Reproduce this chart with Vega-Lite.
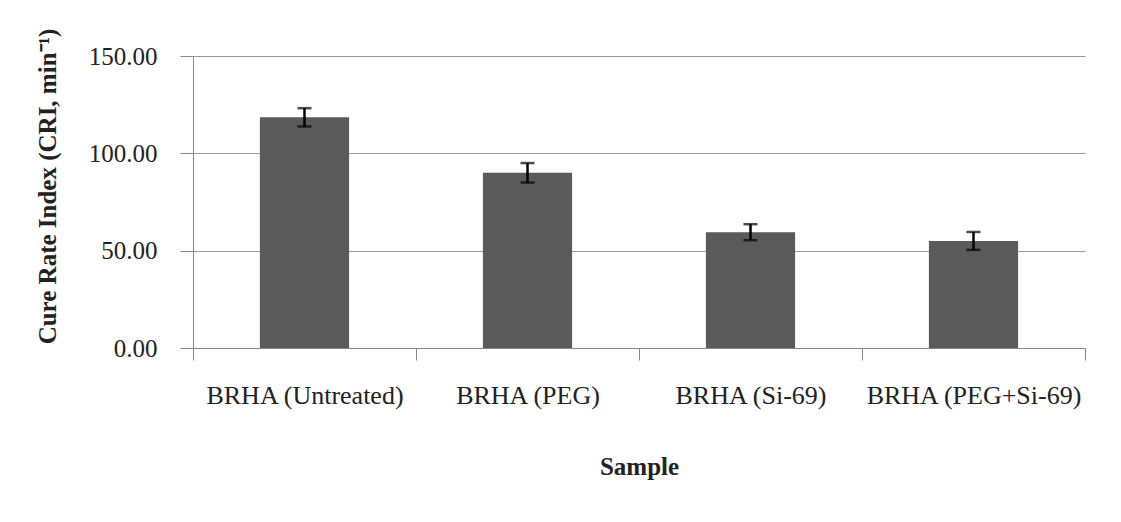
{
  "$schema": "https://vega.github.io/schema/vega-lite/v6.json",
  "autosize": "none",
  "width": 892,
  "height": 292,
  "padding": {"left": 193, "top": 56, "right": 36, "bottom": 174},
  "background": "white",
  "config": {
    "view": {"stroke": null},
    "font": "Liberation Serif"
  },
  "data": {
    "values": [
      {"sample": "BRHA (Untreated)", "cri": 118.5, "lo": 113.8, "hi": 123.2},
      {"sample": "BRHA (PEG)", "cri": 90.0, "lo": 85.0, "hi": 95.0},
      {"sample": "BRHA (Si-69)", "cri": 59.5, "lo": 55.4, "hi": 63.6},
      {"sample": "BRHA (PEG+Si-69)", "cri": 55.0, "lo": 50.4, "hi": 59.6}
    ]
  },
  "encoding": {
    "x": {
      "field": "sample",
      "type": "nominal",
      "sort": null,
      "scale": {"paddingInner": 0, "paddingOuter": 0},
      "axis": {
        "title": "Sample",
        "titleFont": "Liberation Serif",
        "titleFontSize": 25,
        "titleFontWeight": "bold",
        "titleColor": "#222",
        "titlePadding": 46,
        "labelAngle": 0,
        "labelFont": "Liberation Serif",
        "labelFontSize": 26,
        "labelColor": "#222",
        "labelPadding": 22,
        "labelLimit": 300,
        "tickBand": "extent",
        "tickSize": 12,
        "tickColor": "#888",
        "domainColor": "#888",
        "grid": false
      }
    }
  },
  "layer": [
    {
      "mark": {"type": "bar", "color": "#5a5a5a", "width": {"band": 0.4}},
      "encoding": {
        "y": {
          "field": "cri",
          "type": "quantitative",
          "scale": {"domain": [0, 150], "nice": false},
          "axis": {
            "title": "Cure Rate Index (CRI, min⁻¹)",
            "titleFont": "Liberation Serif",
            "titleFontSize": 25,
            "titleFontWeight": "bold",
            "titleColor": "#222",
            "titlePadding": 28,
            "titleY": 130,
            "values": [0, 50, 100, 150],
            "format": ".2f",
            "labelFont": "Liberation Serif",
            "labelFontSize": 25,
            "labelColor": "#222",
            "labelPadding": 23,
            "tickSize": 13,
            "tickColor": "#888",
            "domainColor": "#888",
            "grid": true,
            "gridColor": "#999",
            "gridWidth": 1
          }
        }
      }
    },
    {
      "mark": {"type": "rule", "color": "black", "strokeWidth": 2.5},
      "encoding": {
        "y": {"field": "lo", "type": "quantitative"},
        "y2": {"field": "hi"}
      }
    },
    {
      "mark": {"type": "tick", "color": "black", "thickness": 2.5, "size": 14},
      "encoding": {
        "y": {"field": "lo", "type": "quantitative"}
      }
    },
    {
      "mark": {"type": "tick", "color": "black", "thickness": 2.5, "size": 14},
      "encoding": {
        "y": {"field": "hi", "type": "quantitative"}
      }
    }
  ]
}
